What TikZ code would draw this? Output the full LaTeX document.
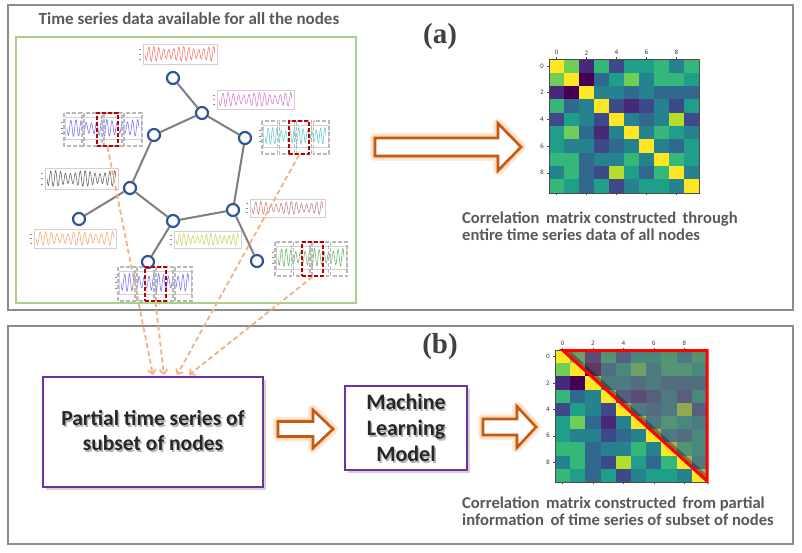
\documentclass[tikz,border=0pt]{standalone}
\usepackage{fontspec}
\setmainfont{Carlito}
\newfontfamily\serifbold{Liberation Serif}
\newfontfamily\plotfont{DejaVu Sans}
\usetikzlibrary{arrows.meta,shadows}

\definecolor{v0}{HTML}{440154}
\definecolor{v1}{HTML}{482878}
\definecolor{v2}{HTML}{3E4989}
\definecolor{v3}{HTML}{31688E}
\definecolor{v4}{HTML}{26828E}
\definecolor{v5}{HTML}{1F9E89}
\definecolor{v6}{HTML}{35B779}
\definecolor{v7}{HTML}{6ECE58}
\definecolor{v8}{HTML}{B5DE2B}
\definecolor{v9}{HTML}{FDE725}
\definecolor{frameg}{HTML}{8C8C8C}
\definecolor{greenbox}{HTML}{A9D18E}
\definecolor{nodeblue}{HTML}{2F5597}
\definecolor{edgegray}{HTML}{7F7F7F}
\definecolor{dashor}{HTML}{F4B183}
\definecolor{arrowor}{HTML}{C55A11}
\definecolor{glowor}{HTML}{F8A860}
\definecolor{purp}{HTML}{7030A0}
\definecolor{txtgray}{HTML}{595959}
\definecolor{redbox}{HTML}{C00000}
\definecolor{wred}{HTML}{FF7070}
\definecolor{wmag}{HTML}{D77BD7}
\definecolor{wblue}{HTML}{7070FF}
\definecolor{wcyan}{HTML}{66CDCD}
\definecolor{wblack}{HTML}{606060}
\definecolor{wrose}{HTML}{C88080}
\definecolor{wora}{HTML}{F5A76C}
\definecolor{wyel}{HTML}{D0D060}
\definecolor{wgreen}{HTML}{70B070}

\tikzset{
 frame/.style={draw=frameg, line width=1.5},
 gnode/.style={circle, draw=nodeblue, line width=2.2, fill=white, minimum size=12, inner sep=0},
 edge/.style={draw=edgegray, line width=2},
 thumbbox/.style={draw=black!18, line width=0.6, inner sep=0, fill=white},
 redwin/.style={draw=redbox, line width=1.8, dash pattern=on 4 off 2, inner sep=0},
 graywin/.style={draw=black!28, line width=1.4, dash pattern=on 4 off 2},
 dasharrow/.style={draw=dashor, line width=1.8, dash pattern=on 5 off 3, -{Straight Barb[length=4pt,width=8pt]}},
 purpbox/.style={draw=purp, line width=2.8, fill=white, inner sep=0, drop shadow={opacity=0.35, shadow xshift=2.5pt, shadow yshift=-2.5pt}},
 boxtxt/.style={font=\bfseries\fontsize{21.5}{25}\selectfont, text=black!85, align=center, inner sep=0},
 mltxt/.style={font=\bfseries\fontsize{22}{26}\selectfont, text=black!85, align=center, inner sep=0},
 caption/.style={font=\bfseries\fontsize{16.6}{17}\selectfont, text=txtgray, align=left, anchor=west, inner sep=0},
 panel/.style={font=\serifbold\bfseries\fontsize{29}{30}\selectfont, text=black!75, inner sep=0},
 ticklab/.style={font=\plotfont\fontsize{6}{7}\selectfont, text=black!75, inner sep=0},
 barrow/.style={draw=arrowor, line width=2.6, fill=white, line join=miter},
 glow/.style={draw=glowor, line width=#1, opacity=0.25, line join=round},
}

% correlation matrix: x0, y0, cell w, cell h, name prefix
\newcommand{\corrmat}[5]{%
 \foreach \rowlist [count=\r from 0] in {{9,7,1,6,2,5,5,6,4,6},{7,9,0,3,5,7,4,6,6,5},{1,0,9,4,4,3,4,3,3,3},{6,3,4,9,2,1,2,4,2,5},{2,5,4,2,9,4,3,4,8,2},{5,7,3,1,4,9,4,6,5,4},{5,4,4,2,3,4,9,4,3,5},{6,6,3,4,4,6,4,9,6,5},{4,6,3,2,8,5,3,6,9,4},{6,5,3,5,2,4,5,5,4,9}}{%
   \foreach \v [count=\c from 0] in \rowlist {%
     \fill[v\v] ({#1+\c*#3},{#2+\r*#4}) rectangle ({#1+(\c+1)*#3},{#2+(\r+1)*#4});
   }}%
 \draw[black!70, line width=0.5] (#1,#2) rectangle ({#1+10*#3},{#2+10*#4});
 \foreach \k in {0,2,4,6,8}{%
   \draw[black!70,line width=0.4] ({#1+(\k+0.5)*#3},#2) -- ++(0,-2);
   \draw[black!70,line width=0.4] ({#1+(\k+0.5)*#3},{#2+10*#4}) -- ++(0,2);
   \draw[black!70,line width=0.4] (#1,{#2+(\k+0.5)*#4}) -- ++(-2,0);
   \node[ticklab] (#5t\k) at ({#1+(\k+0.5)*#3},{#2-6.5}) {\k};
   \node[ticklab] (#5l\k) at ({#1-7},{#2+(\k+0.5)*#4}) {\k};
 }}

% thumbnail: x0,y0,x1,y1,color,name
\newcommand{\thumb}[6]{%
 \node[thumbbox, minimum width={(#3)-(#1)}, minimum height={(#4)-(#2)}] (#6) at ({((#1)+(#3))/2},{((#2)+(#4))/2}) {};
 \draw[#5, line width=0.55] plot[domain=0:1, samples=160] ({(#1)+2+\x*((#3)-(#1)-4)}, {((#2)+(#4))/2 + (((#4)-(#2))/2-2.5)*sin(\x*360*14)*(0.8+0.2*sin(\x*360*2.3))});
 \foreach \q in {0.25,0.5,0.75} \draw[black!45,line width=0.4] ({(#1)-4},{(#2)+\q*((#4)-(#2))}) -- ++(2,0);
}
% dashed thumbnail: x0,y0,x1,y1,color,name,redx0,redx1
\newcommand{\dthumb}[8]{%
 \thumb{(#1)+2}{(#2)+4}{(#3)-2}{(#4)-7}{#5}{#6}
 \foreach \k in {0,1,2,3} \draw[graywin] ({(#1)+\k*((#3)-(#1))/4+1},#2) rectangle ({(#1)+(\k+1)*((#3)-(#1))/4-1},#4);
 \node[redwin, minimum width={(#8)-(#7)}, minimum height={(#4)-(#2)}] (#6r) at ({((#7)+(#8))/2},{((#2)+(#4))/2}) {};
}
% block arrow: left, head start, tip, yc, body half, head half, style
\newcommand{\blockarrow}[7]{%
 \path[#7] (#1,{#4-#5}) -- (#2,{#4-#5}) -- (#2,{#4-#6}) -- (#3,#4) -- (#2,{#4+#6}) -- (#2,{#4+#5}) -- (#1,{#4+#5}) -- cycle;}

\begin{document}
\begin{tikzpicture}[x=1pt,y=-1pt]
\useasboundingbox (0,0) rectangle (802,553);
\fill[white] (0,0) rectangle (802,553);

% ---------- panel (a) ----------
\draw[frame] (8,5) rectangle (793,310);
\draw[greenbox, line width=2] (16,37) rectangle (356,303);
\node[font=\bfseries\fontsize{17}{20}\selectfont, text=txtgray, inner sep=0] (title) at (189,19) {Time series data available for all the nodes};
\node[panel] (pa) at (440,37) {(a)};

% graph
\node[gnode] (n1) at (173,78) {};
\node[gnode] (n2) at (202,113) {};
\node[gnode] (n3) at (154,135) {};
\node[gnode] (n4) at (245,138) {};
\node[gnode] (n5) at (130,188) {};
\node[gnode] (n6) at (79,219) {};
\node[gnode] (n7) at (173,221) {};
\node[gnode] (n8) at (233,210) {};
\node[gnode] (n9) at (257,261) {};
\node[gnode] (n10) at (148,262) {};
\draw[edge] (n1) -- (n2);
\draw[edge] (n2) -- (n3);
\draw[edge] (n2) -- (n4);
\draw[edge] (n3) -- (n5);
\draw[edge] (n5) -- (n6);
\draw[edge] (n5) -- (n7);
\draw[edge] (n7) -- (n8);
\draw[edge] (n4) -- (n8);
\draw[edge] (n8) -- (n9);
\draw[edge] (n7) -- (n10);

% thumbnails
\thumb{143}{44}{217}{64}{wred}{t1}
\thumb{217}{90}{294}{109}{wmag}{t2}
\thumb{45}{168}{118}{189}{wblack}{t5}
\thumb{250}{199}{325}{217}{wrose}{t6}
\thumb{34}{229}{116}{248}{wora}{t7}
\thumb{174}{231}{241}{248}{wyel}{t8}
\dthumb{63}{113}{143}{146}{wblue}{t3}{97}{118}
\dthumb{261}{121}{330}{154}{wcyan}{t4}{289}{309}
\dthumb{274}{242}{348}{276}{wgreen}{t9}{302}{323}
\dthumb{117}{267}{193}{301}{wblue}{t10}{145}{166}

% arrow (a)
\blockarrow{375}{498}{521}{147}{9}{23.5}{glow=10}
\blockarrow{375}{498}{521}{147}{9}{23.5}{glow=6}
\blockarrow{375}{498}{521}{147}{9}{23.5}{barrow}

% matrix (a)
\corrmat{549}{59.3}{15}{13.35}{ma}
\node[caption] (capa) at (462,226.5) {Correlation\, matrix constructed\, through\\entire time series data of all nodes};

% ---------- panel (b) ----------
\draw[frame] (8,326) rectangle (793,544);
\node[panel] (pb) at (440,347) {(b)};

\node[purpbox, minimum width=220, minimum height=110] (pbox) at (153,432) {};
\node[boxtxt, text=black!30] (ptxtsh) at (154.5,432.5) {Partial time series of\\subset of nodes};
\node[boxtxt] (ptxt) at (153,431) {Partial time series of\\subset of nodes};

\node[purpbox, minimum width=122, minimum height=84] (mlbox) at (406,428) {};
\node[mltxt, text=black!30] (mltxtsh) at (407.5,429.5) {Machine\\Learning\\Model};
\node[mltxt] (mltxt) at (406,428) {Machine\\Learning\\Model};

\blockarrow{278}{313}{333}{429}{7.5}{19}{glow=10}
\blockarrow{278}{313}{333}{429}{7.5}{19}{glow=6}
\blockarrow{278}{313}{333}{429}{7.5}{19}{barrow}
\blockarrow{483}{517}{536}{427}{8}{20.5}{glow=10}
\blockarrow{483}{517}{536}{427}{8}{20.5}{glow=6}
\blockarrow{483}{517}{536}{427}{8}{20.5}{barrow}

% matrix (b)
\corrmat{555}{350}{15.2}{13.2}{mb}
\begin{scope}
 \clip (563,350.5) -- (707,350.5) -- (707,481) -- cycle;
 \fill[black!55, opacity=0.5] (555,350) rectangle (707,482);
 \draw[black, opacity=0.3, line width=9] (563,350.5) -- (707,481);
\end{scope}
\draw[red, line width=3, line join=miter] (563,350.5) -- (707,350.5) -- (707,481) -- cycle;
\node[caption] (capb) at (462,511.5) {Correlation\, matrix constructed\, from partial\\information\, of time series of subset of nodes};

% dashed connectors
\coordinate (e1) at (153,375);
\coordinate (e2) at (164,375);
\coordinate (e3) at (177,375);
\coordinate (e4) at (189,375);
\draw[dasharrow] (t3r.south) -- (e1);
\draw[dasharrow] (t10r.south) -- (e2);
\draw[dasharrow] (t4r.south) -- (e3);
\draw[dasharrow] (t9r.south) -- (e4);
\end{tikzpicture}
\end{document}
